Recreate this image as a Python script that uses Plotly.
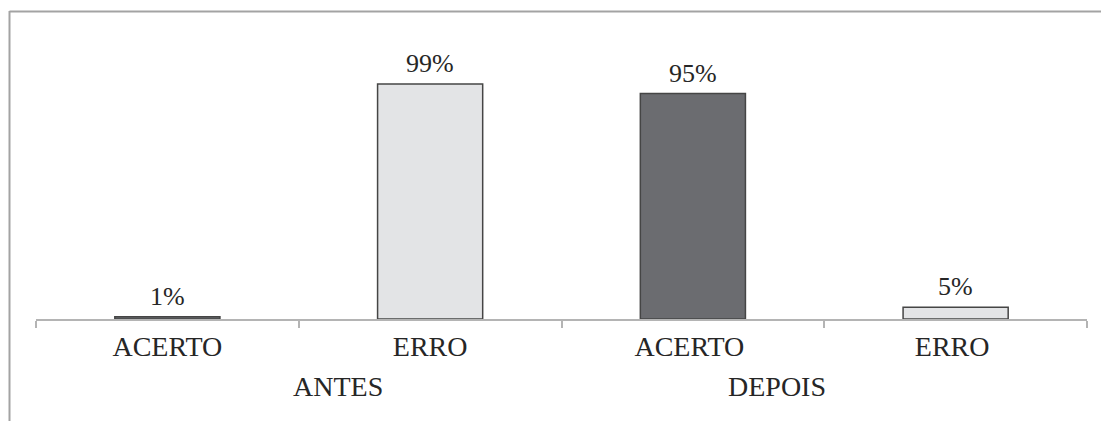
import plotly.graph_objects as go

# Acerto/erro antes e depois
categories = ["ACERTO", "ERRO", "ACERTO ", "ERRO "]
group_labels = ["ANTES", "DEPOIS"]
values = [1, 99, 95, 5]
value_labels = ["1%", "99%", "95%", "5%"]

FILL_DARK = "#6b6c70"
FILL_LIGHT = "#e3e4e6"
EDGE = "#454545"
bar_fill = [FILL_DARK, FILL_LIGHT, FILL_DARK, FILL_LIGHT]

W, H = 1101, 421
M_L, M_R, M_T, M_B = 36, 14, 58, 102
plot_w = W - M_L - M_R
plot_h = H - M_T - M_B
FONT = "Liberation Serif"
TEXT_COL = "#262626"


def px_to_paper_x(px):
    return (px - M_L) / plot_w


def px_to_paper_y(py):
    return (H - M_B - py) / plot_h


fig = go.Figure(
    go.Bar(
        x=categories,
        y=values,
        width=0.4,
        marker=dict(color=bar_fill, line=dict(color=EDGE, width=1.5)),
        hoverinfo="skip",
    )
)

# value labels above each bar
for cat, val, lab in zip(categories, values, value_labels):
    fig.add_annotation(
        x=cat, y=val, xref="x", yref="y", text=lab, showarrow=False,
        yanchor="bottom", yshift=4,
        font=dict(family=FONT, size=26, color=TEXT_COL),
    )

# second-level group labels
for gx, lab in zip([0.65, 2.32], group_labels):
    fig.add_annotation(
        x=gx, y=px_to_paper_y(386), xref="x", yref="paper", text=lab,
        showarrow=False, yanchor="middle", xanchor="center",
        font=dict(family=FONT, size=28, color=TEXT_COL),
    )

# outer frame: left and top edges
frame_col = "#a3a3a3"
fig.add_shape(type="line", xref="paper", yref="paper",
              x0=px_to_paper_x(9.5), x1=px_to_paper_x(9.5),
              y0=px_to_paper_y(11), y1=px_to_paper_y(H + 2),
              line=dict(color=frame_col, width=2))
fig.add_shape(type="line", xref="paper", yref="paper",
              x0=px_to_paper_x(9.5), x1=px_to_paper_x(W + 2),
              y0=px_to_paper_y(11.5), y1=px_to_paper_y(11.5),
              line=dict(color=frame_col, width=2))

fig.update_layout(
    width=W, height=H,
    margin=dict(l=M_L, r=M_R, t=M_T, b=M_B, pad=0),
    paper_bgcolor="white", plot_bgcolor="white",
    showlegend=False,
    font=dict(family=FONT, color=TEXT_COL),
)
fig.update_xaxes(
    type="category", range=[-0.5, 3.5],
    showline=True, linecolor="#b4b4b4", linewidth=1.5,
    ticks="outside", tickson="boundaries", ticklen=7, tickcolor="#b4b4b4", tickwidth=1.5,
    showgrid=False, zeroline=False,
    tickfont=dict(family=FONT, size=28, color=TEXT_COL),
    ticklabelstandoff=2,
)
fig.update_yaxes(
    range=[0, 110], visible=False, showgrid=False, zeroline=False,
)

fig.write_html("out.html", config={"displayModeBar": False})
